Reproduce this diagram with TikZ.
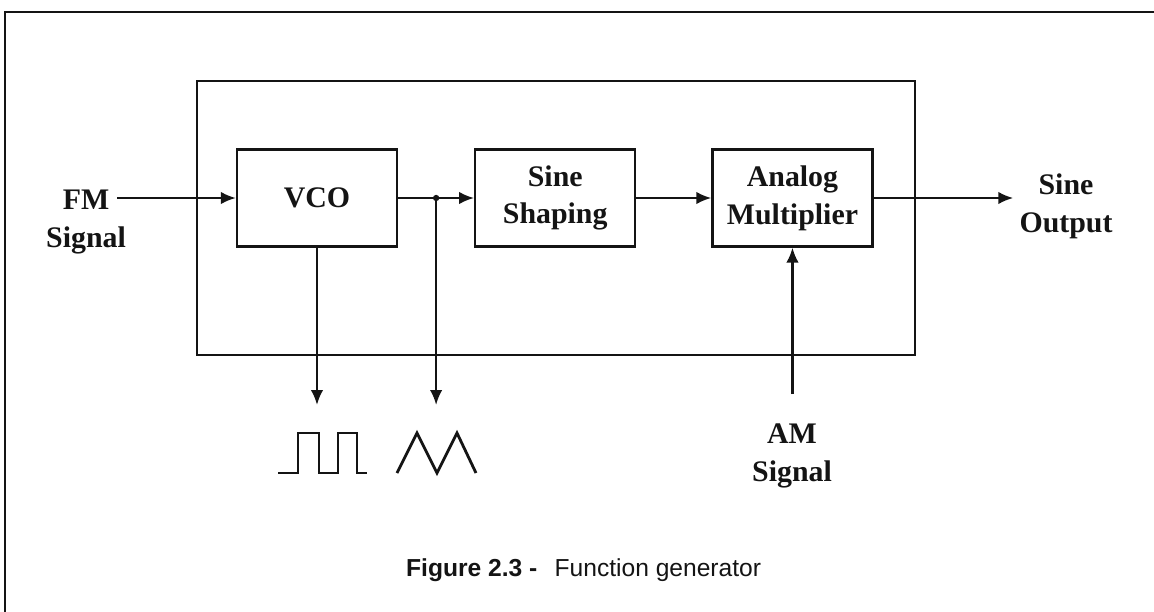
\documentclass[tikz,border=0pt]{standalone}
\usepackage{fontspec}
\setmainfont{Liberation Serif}
\newfontfamily\captionfont{Liberation Sans}
\usetikzlibrary{
  arrows.meta,
  positioning,
  calc
}
\definecolor{inkcolor}{RGB}{20, 20, 20}
\tikzset{
blocktext/.style={
  align=center,
  font=\bfseries\fontsize{17}{21.5}\selectfont,
  text=inkcolor
},
block/.style={
  draw=inkcolor,
  line width=1.3pt,
  minimum height=1.94cm,
  minimum width=3.2cm,
  blocktext
},
signallabel/.style={
  blocktext
},
captionlabel/.style={
  font=\captionfont\fontsize{14}{17}\selectfont,
  text=inkcolor
},
frame/.style={
  draw=inkcolor,
  line width=1.7pt
},
housing/.style={
  draw=inkcolor,
  line width=1.3pt
},
wave/.style={
  draw=inkcolor,
  line width=1.6pt,
  line join=miter
},
arrow/.style={
  -{Latex[length=3mm,width=2.5mm]},
  line width=1.3pt,
  draw=inkcolor
}
}

\begin{document}
\begin{tikzpicture}[x=0.02cm, y=-0.02cm]
  \useasboundingbox (0,0) rectangle (1154,612);
  % frame and housing
  \draw[frame] (1154,12) -- (5,12) -- (5,612);
  \draw[housing] (197,81) rectangle (915,355);

  % blocks
  \node[block] (vco) at (317,198) {VCO};
  \node[block, right=1.52cm of vco] (shaping) {Sine\\Shaping};
  \node[block, right=1.5cm of shaping] (mult) {Analog\\Multiplier};

  % signal labels
  \node[signallabel] (fm) at (86,222) {FM\\Signal};
  \node[signallabel] (out) at (1066,206) {Sine\\Output};
  \node[signallabel] (am) at (792,456) {AM\\Signal};

  % connectors
  \coordinate (fmtip) at (117,198);
  \coordinate (branch) at ($(vco.east)!0.5!(shaping.west)$);
  \coordinate (amtail) at (mult.south |- 0,394);
  \coordinate (sqtip) at (vco.south |- 0,405);
  \coordinate (tritip) at (branch |- 0,405);
  \draw[arrow] (fmtip) -- (vco.west);
  \draw[arrow] (vco.east) -- (shaping.west);
  \draw[arrow] (shaping.east) -- (mult.west);
  \draw[arrow] (mult.east) -- (mult.east -| out.west);
  \draw[arrow] (amtail) -- (mult.south);
  \draw[arrow] (vco.south) -- (sqtip);
  \draw[arrow] (branch) -- (tritip);
  \fill[inkcolor] (branch) circle (1.8pt);

  % waveforms
  \draw[wave] (278,473) -- (298,473) -- (298,433) -- (319,433) -- (319,473)
    -- (338,473) -- (338,433) -- (357,433) -- (357,473) -- (367,473);
  \draw[wave] (397,473) -- (417,433) -- (437,473) -- (457,433) -- (476,473);

  \node[captionlabel, anchor=base west] (caption) at (400,576)
    {\textbf{Figure 2.3 -}\hspace{0.7em}Function generator};
\end{tikzpicture}
\end{document}
